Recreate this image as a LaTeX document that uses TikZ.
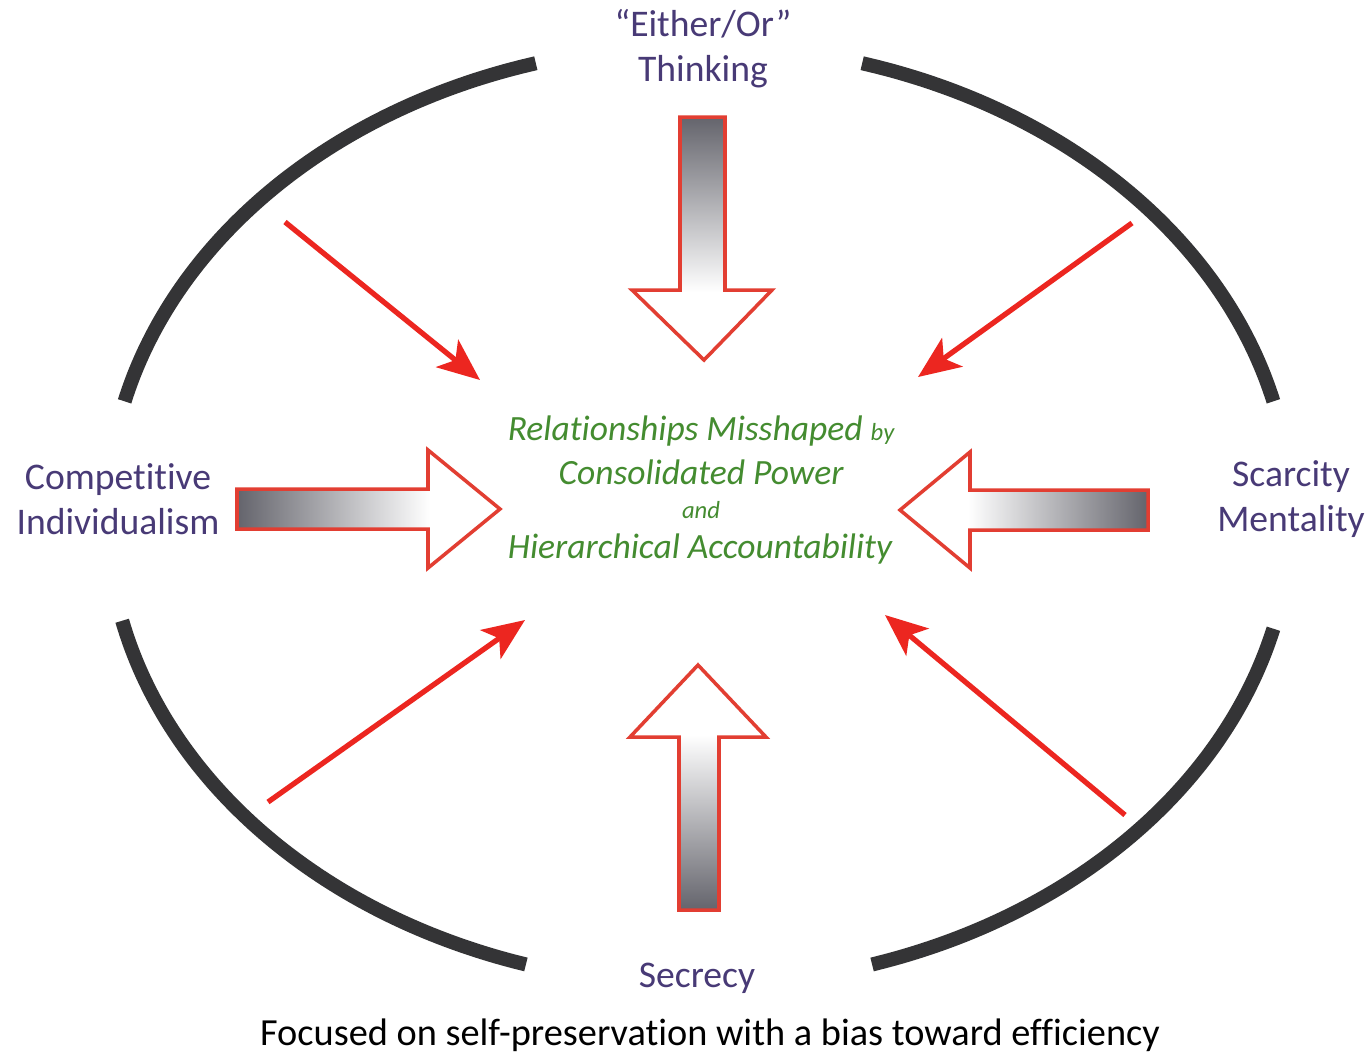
\documentclass[tikz,border=0pt]{standalone}
\usepackage{fontspec}
\setmainfont[Ligatures=NoCommon]{Carlito}
\usetikzlibrary{arrows.meta}

\definecolor{labelpurple}{RGB}{72,58,118}
\definecolor{coregreen}{RGB}{68,140,48}
\definecolor{rimgray}{RGB}{52,52,54}
\definecolor{pushred}{RGB}{236,38,32}
\definecolor{outlinered}{RGB}{226,62,50}
\definecolor{shaftgray}{RGB}{100,100,108}

\tikzset{
  rim/.style={draw=rimgray, line width=4pt, line cap=butt},
  push/.style={draw=pushred, line width=1.5pt,
    -{Stealth[length=12pt, width=10pt, inset=3pt]}},
  blockedge/.style={draw=outlinered, line width=1pt, line join=miter},
  force/.style={text=labelpurple, font=\fontsize{10.7}{12.8}\selectfont, align=center},
  core/.style={text=coregreen, font=\itshape\fontsize{10.1}{12}\selectfont},
  small/.style={text=coregreen, font=\itshape\fontsize{7}{9}\selectfont}
}

\begin{document}
\begin{tikzpicture}[x=0.01cm, y=-0.01cm]
  \useasboundingbox (0,0) rectangle (1372,1059);
  \fill[white] (0,0) rectangle (1372,1059);

  % broken elliptical rim
  \draw[rim] plot[domain=106:166, samples=80] ({699+592*cos(\x)}, {515-470*sin(\x)});
  \draw[rim] plot[domain=14:74,   samples=80] ({699+592*cos(\x)}, {515-470*sin(\x)});
  \draw[rim] plot[domain=193:253, samples=80] ({699+592*cos(\x)}, {515-470*sin(\x)});
  \draw[rim] plot[domain=287:346, samples=80] ({699+592*cos(\x)}, {515-470*sin(\x)});

  % block arrow from the top
  \fill[white] (680,117) -- (725,117) -- (725,290) -- (772,290) -- (704,360) -- (632,290) -- (680,290) -- cycle;
  \shade[top color=shaftgray, middle color=shaftgray!45, bottom color=white] (680,117) rectangle (725,292);
  \draw[blockedge] (680,117) -- (725,117) -- (725,290) -- (772,290) -- (704,360) -- (632,290) -- (680,290) -- cycle;

  % block arrow from the left
  \fill[white] (237,489) -- (428,489) -- (428,450) -- (500,509) -- (428,568) -- (428,529) -- (237,529) -- cycle;
  \shade[left color=shaftgray, middle color=shaftgray!45, right color=white] (237,489) rectangle (430,529);
  \draw[blockedge] (237,489) -- (428,489) -- (428,450) -- (500,509) -- (428,568) -- (428,529) -- (237,529) -- cycle;

  % block arrow from the right
  \fill[white] (1148,490) -- (970,490) -- (970,452) -- (900,510) -- (970,568) -- (970,530) -- (1148,530) -- cycle;
  \shade[left color=white, middle color=shaftgray!45, right color=shaftgray] (968,490) rectangle (1148,530);
  \draw[blockedge] (1148,490) -- (970,490) -- (970,452) -- (900,510) -- (970,568) -- (970,530) -- (1148,530) -- cycle;

  % block arrow from the bottom
  \fill[white] (679,910) -- (719,910) -- (719,737) -- (766,737) -- (698,665) -- (630,737) -- (679,737) -- cycle;
  \shade[top color=white, middle color=shaftgray!45, bottom color=shaftgray] (679,735) rectangle (719,910);
  \draw[blockedge] (679,910) -- (719,910) -- (719,737) -- (766,737) -- (698,665) -- (630,737) -- (679,737) -- cycle;

  % diagonal pressures
  \coordinate (ulS) at (285,222);  \coordinate (ulE) at (480,380);
  \coordinate (urS) at (1132,223); \coordinate (urE) at (918,377);
  \coordinate (llS) at (268,802);  \coordinate (llE) at (525,620);
  \coordinate (lrS) at (1125,815); \coordinate (lrE) at (885,615);
  \draw[push] (ulS) -- (ulE);
  \draw[push] (urS) -- (urE);
  \draw[push] (llS) -- (llE);
  \draw[push] (lrS) -- (lrE);

  % forces
  \node[force] (either) at (703,49) {“Either/Or”\\Thinking};
  \node[force] (compet) at (118,499) {Competitive\\Individualism};
  \node[force] (scarce) at (1291,499) {Scarcity\\Mentality};
  \node[force] (secret) at (697,978) {Secrecy};

  % core
  \node[core] (rel) at (701,431) {Relationships Misshaped {\fontsize{7}{9}\selectfont by}};
  \node[core] (cons) at (701,472) {Consolidated Power};
  \node[small] (and) at (701,510) {and};
  \node[core] (hier) at (700,549) {Hierarchical Accountability};

  % caption
  \node[font=\fontsize{10.9}{13}\selectfont] (caption) at (710,1035)
    {Focused on self-preservation with a bias toward efficiency};
\end{tikzpicture}
\end{document}
